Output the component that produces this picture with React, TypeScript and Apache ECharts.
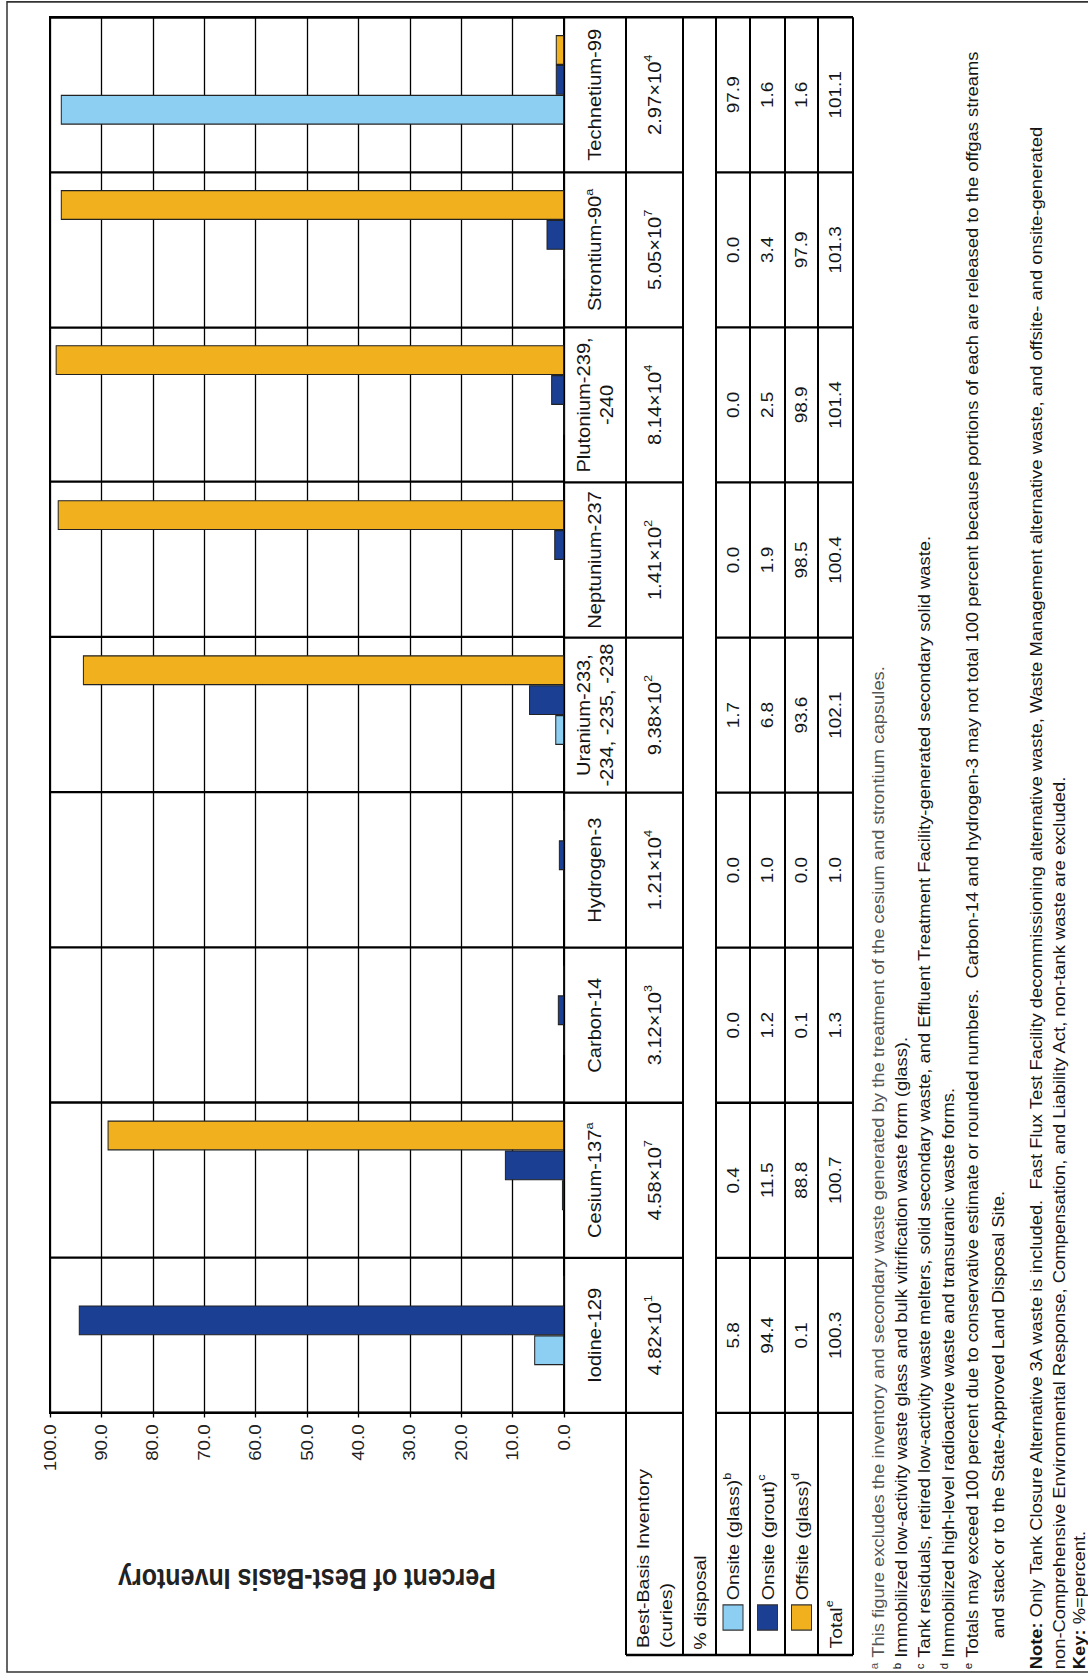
import React, { useEffect, useRef } from 'react';
import * as echarts from 'echarts';

// ---------------- data ----------------
const categories = [
  'Iodine-129',
  'Cesium-137',
  'Carbon-14',
  'Hydrogen-3',
  'Uranium-233,\n-234, -235, -238',
  'Neptunium-237',
  'Plutonium-239,\n-240',
  'Strontium-90',
  'Technetium-99',
];
const categoryNotes = ['', 'a', '', '', '', '', '', 'a', ''];
const inventoryMantissa = ['4.82', '4.58', '3.12', '1.21', '9.38', '1.41', '8.14', '5.05', '2.97'];
const inventoryExponent = ['1', '7', '3', '4', '2', '2', '4', '7', '4'];
const onsiteGlass = [5.8, 0.4, 0.0, 0.0, 1.7, 0.0, 0.0, 0.0, 97.9];
const onsiteGrout = [94.4, 11.5, 1.2, 1.0, 6.8, 1.9, 2.5, 3.4, 1.6];
const offsiteGlass = [0.1, 88.8, 0.1, 0.0, 93.6, 98.5, 98.9, 97.9, 1.6];
const totals = [100.3, 100.7, 1.3, 1.0, 102.1, 100.4, 101.4, 101.3, 101.1];
const valueAxisMin = 0;
const valueAxisMax = 100;
const valueAxisStep = 10;

const seriesNames = ['Onsite (glass)', 'Onsite (grout)', 'Offsite (glass)'];
const seriesNotes = ['b', 'c', 'd'];
const seriesColors = ['#8DCFF2', '#1B3F93', '#F1B11E'];

const footnotes = [
  { mark: 'a', text: 'This figure excludes the inventory and secondary waste generated by the treatment of the cesium and strontium capsules.' },
  { mark: 'b', text: 'Immobilized low-activity waste glass and bulk vitrification waste form (glass).' },
  { mark: 'c', text: 'Tank residuals, retired low-activity waste melters, solid secondary waste, and Effluent Treatment Facility-generated secondary solid waste.' },
  { mark: 'd', text: 'Immobilized high-level radioactive waste and transuranic waste forms.' },
  { mark: 'e', text: 'Totals may exceed 100 percent due to conservative estimate or rounded numbers.  Carbon-14 and hydrogen-3 may not total 100 percent because portions of each are released to the offgas streams' },
  { mark: '', text: 'and stack or to the State-Approved Land Disposal Site.' },
];
const noteLines = [
  { bold: 'Note:', text: ' Only Tank Closure Alternative 3A waste is included.  Fast Flux Test Facility decommissioning alternative waste, Waste Management alternative waste, and offsite- and onsite-generated' },
  { bold: '', text: 'non-Comprehensive Environmental Response, Compensation, and Liability Act, non-tank waste are excluded.' },
  { bold: 'Key:', text: ' %=percent.' },
];

// ---------------- layout (landscape page, rotated onto the portrait image) ----------------
const PAGE_W = 1088;
const PAGE_H = 1675;
const W = 1457; // landscape width before stretch
const H = 1088;
const SY = PAGE_H / W;
const FONT = '"Liberation Sans", Arial, Helvetica, sans-serif';
const INK = '#151515';

const GL = 228;
const GR = 15;
const GT = 50;
const GBOT = 564;
const GW = W - GL - GR;
const BAND = GW / categories.length;
const TABLE_LEFT = 17.4;
const ROW = {
  name: [564, 626],
  inv: [626, 683],
  disp: [683, 716],
  glass: [716, 750],
  grout: [750, 785],
  offsite: [785, 818],
  total: [818, 853],
};
const FOOT_Y = [878, 901, 924, 948, 972, 998];
const NOTE_Y = [1036, 1059, 1079];
const FOOT_SIZE = 16;

function line(x1: number, y1: number, x2: number, y2: number, w = 2) {
  return {
    type: 'line',
    silent: true,
    shape: { x1, y1, x2, y2 },
    style: { stroke: '#000', lineWidth: w },
  };
}

function text(x: number, y: number, str: string, size: number, opts: any = {}) {
  return {
    type: 'text',
    silent: true,
    x,
    y,
    style: {
      text: str,
      fontSize: size,
      fontFamily: FONT,
      fill: opts.fill || INK,
      align: opts.align || 'center',
      verticalAlign: 'middle',
      fontWeight: opts.fontWeight || 'normal',
      lineHeight: opts.lineHeight,
      rich: opts.rich,
    },
  };
}

function supRich(size: number, supSize: number, fill = INK) {
  return {
    v: { fontSize: size, fontFamily: FONT, fill, lineHeight: size + 6 },
    s: { fontSize: supSize, fontFamily: FONT, fill, verticalAlign: 'top', lineHeight: supSize + 2 },
    b: { fontSize: size, fontFamily: FONT, fill, fontWeight: 'bold', lineHeight: size + 6 },
  };
}

function buildGraphic() {
  const g: any[] = [];
  // page frame
  g.push({
    type: 'rect',
    silent: true,
    shape: { x: 2.6, y: 7, width: 1452.7, height: 1110 },
    style: { fill: 'none', stroke: '#333', lineWidth: 1.5 },
  });

  const gridRight = GL + GW;
  // category separators through the name row and the table
  for (let k = 0; k <= categories.length; k++) {
    const x = GL + k * BAND;
    g.push(line(x, ROW.name[0], x, ROW.disp[0]));
    g.push(line(x, ROW.disp[1], x, ROW.total[1]));
  }
  // table outer left border
  g.push(line(TABLE_LEFT, ROW.inv[0], TABLE_LEFT, ROW.total[1]));
  // horizontal table rules
  [ROW.inv[0], ROW.inv[1], ROW.disp[1], ROW.glass[1], ROW.grout[1], ROW.offsite[1], ROW.total[1]].forEach((y) => {
    g.push(line(TABLE_LEFT, y, gridRight, y));
  });
  // right border of % disposal row
  g.push(line(gridRight, ROW.disp[0], gridRight, ROW.disp[1]));

  // header column
  g.push(text(23.5, (ROW.inv[0] + ROW.inv[1]) / 2, 'Best-Basis Inventory\n(curies)', 17, { align: 'left', lineHeight: 23 }));
  g.push(text(22, (ROW.disp[0] + ROW.disp[1]) / 2, '% disposal', 17, { align: 'left' }));
  const legendRows = [ROW.glass, ROW.grout, ROW.offsite];
  legendRows.forEach((r, i) => {
    const cy = (r[0] + r[1]) / 2;
    g.push({
      type: 'rect',
      silent: true,
      shape: { x: 39, y: cy - 10, width: 22, height: 20 },
      style: { fill: seriesColors[i], stroke: '#333', lineWidth: 1 },
    });
    g.push(text(65, cy, `{v|${seriesNames[i]}}{s|${seriesNotes[i]}}`, 17, { align: 'left', rich: supRich(17, 11) }));
  });
  g.push(text(23, (ROW.total[0] + ROW.total[1]) / 2, '{v|Total}{s|e}', 17, { align: 'left', rich: supRich(17, 11) }));

  // data cells
  const valueRows = [onsiteGlass, onsiteGrout, offsiteGlass];
  categories.forEach((_, i) => {
    const cx = GL + BAND * (i + 0.5);
    g.push(text(cx, (ROW.inv[0] + ROW.inv[1]) / 2, `{v|${inventoryMantissa[i]}×10}{s|${inventoryExponent[i]}}`, 17.5, { rich: supRich(17.5, 11) }));
    valueRows.forEach((vals, j) => {
      const r = legendRows[j];
      g.push(text(cx, (r[0] + r[1]) / 2, vals[i].toFixed(1), 16.5));
    });
    g.push(text(cx, (ROW.total[0] + ROW.total[1]) / 2, totals[i].toFixed(1), 16.5));
  });

  // footnotes
  footnotes.forEach((f, i) => {
    const fill = i === 0 ? '#555' : INK;
    if (f.mark) g.push(text(5, FOOT_Y[i] - 4, f.mark, 10, { align: 'left', fill }));
    g.push(text(f.mark ? 15 : 32, FOOT_Y[i], f.text, FOOT_SIZE, { align: 'left', fill }));
  });
  noteLines.forEach((n, i) => {
    const str = (n.bold ? `{b|${n.bold}}` : '') + `{v|${n.text}}`;
    g.push(text(5, NOTE_Y[i], str, FOOT_SIZE, { align: 'left', rich: supRich(FOOT_SIZE, 10) }));
  });
  return g;
}

export default function App() {
  const ref = useRef<HTMLDivElement>(null);
  useEffect(() => {
    document.body.style.margin = '0';
    if (!ref.current) return;
    const chart = echarts.init(ref.current, null, { renderer: 'svg', width: W, height: H });

    const barBase = {
      type: 'bar',
      barWidth: 26,
      barGap: '0%',
      itemStyle: { borderColor: '#222', borderWidth: 1 },
    };

    chart.setOption({
      animation: false,
      backgroundColor: '#fff',
      grid: {
        left: GL,
        right: GR,
        top: GT,
        bottom: H - GBOT,
        show: true,
        borderColor: '#000',
        borderWidth: 2,
        backgroundColor: 'transparent',
      },
      xAxis: {
        type: 'category',
        data: categories,
        axisLine: { lineStyle: { color: '#000', width: 2 } },
        axisTick: { show: false },
        splitLine: { show: true, lineStyle: { color: '#000', width: 2 } },
        axisLabel: {
          interval: 0,
          margin: 31,
          verticalAlign: 'middle',
          align: 'center',
          formatter: (v: string, i: number) => {
            const lines = v.split('\n').map((l) => `{n|${l}}`);
            if (categoryNotes[i]) lines[lines.length - 1] += `{s|${categoryNotes[i]}}`;
            return lines.join('\n');
          },
          rich: {
            n: { fontSize: 17.5, fontFamily: FONT, color: INK, lineHeight: 23 },
            s: { fontSize: 11, fontFamily: FONT, color: INK, verticalAlign: 'top', lineHeight: 13 },
          },
        },
      },
      yAxis: {
        type: 'value',
        min: valueAxisMin,
        max: valueAxisMax,
        interval: valueAxisStep,
        name: 'Percent of Best-Basis Inventory',
        nameLocation: 'middle',
        nameGap: 132,
        nameTextStyle: { fontSize: 25, fontWeight: 'bold', color: '#222', fontFamily: FONT },
        axisLine: { show: true, lineStyle: { color: '#000', width: 2 } },
        axisTick: { show: true, length: 4, lineStyle: { color: '#000', width: 1.3 } },
        splitLine: { show: true, lineStyle: { color: '#000', width: 1.3 } },
        axisLabel: {
          margin: 10,
          fontSize: 16.3,
          fontFamily: FONT,
          color: '#222',
          formatter: (v: number) => v.toFixed(1),
        },
      },
      series: [
        // empty slot kept by the original layout (bars sit offset within each band)
        { ...barBase, name: 'spacer', data: [], itemStyle: { color: 'transparent' } },
        { ...barBase, name: seriesNames[0], data: onsiteGlass, itemStyle: { ...barBase.itemStyle, color: seriesColors[0] } },
        { ...barBase, name: seriesNames[1], data: onsiteGrout, itemStyle: { ...barBase.itemStyle, color: seriesColors[1] } },
        { ...barBase, name: seriesNames[2], data: offsiteGlass, itemStyle: { ...barBase.itemStyle, color: seriesColors[2] } },
      ],
      graphic: buildGraphic(),
    });
    return () => chart.dispose();
  }, []);

  return (
    <div style={{ position: 'relative', width: PAGE_W, height: PAGE_H, overflow: 'hidden', background: '#fff' }}>
      <div
        ref={ref}
        style={{
          position: 'absolute',
          left: 0,
          top: 0,
          width: W,
          height: H,
          transformOrigin: '0 0',
          transform: `translate(0px, ${PAGE_H}px) rotate(-90deg) scale(${SY}, 1)`,
        }}
      />
    </div>
  );
}
